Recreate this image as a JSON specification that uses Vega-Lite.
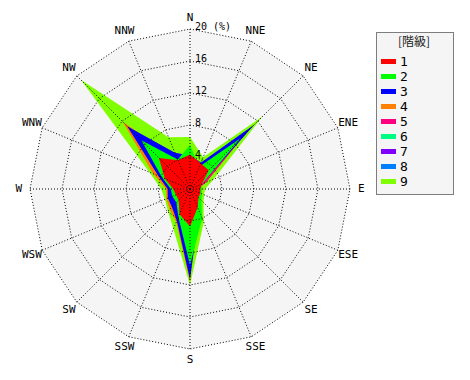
{
"$schema":"https://vega.github.io/schema/vega-lite/v6.json",
"width":470,"height":380,"autosize":"none","padding":0,"background":"white",
"config":{"view":{"stroke":null},"font":"DejaVu Sans Mono",
 "legend":{"strokeColor":"#000","strokeDash":[1,1],"fillColor":"#f5f5f5","padding":5}},
"datasets":{
"dirs":[{"i":0,"d":"N","rings":[4,8,12,16,20]},{"i":1,"d":"NNE","rings":[4,8,12,16,20]},{"i":2,"d":"NE","rings":[4,8,12,16,20]},{"i":3,"d":"ENE","rings":[4,8,12,16,20]},{"i":4,"d":"E","rings":[4,8,12,16,20]},{"i":5,"d":"ESE","rings":[4,8,12,16,20]},{"i":6,"d":"SE","rings":[4,8,12,16,20]},{"i":7,"d":"SSE","rings":[4,8,12,16,20]},{"i":8,"d":"S","rings":[4,8,12,16,20]},{"i":9,"d":"SSW","rings":[4,8,12,16,20]},{"i":10,"d":"SW","rings":[4,8,12,16,20]},{"i":11,"d":"WSW","rings":[4,8,12,16,20]},{"i":12,"d":"W","rings":[4,8,12,16,20]},{"i":13,"d":"WNW","rings":[4,8,12,16,20]},{"i":14,"d":"NW","rings":[4,8,12,16,20]},{"i":15,"d":"NNW","rings":[4,8,12,16,20]}],
"ringlab":[{"r":4,"t":"4"},{"r":8,"t":"8"},{"r":12,"t":"12"},{"r":16,"t":"16"},{"r":20,"t":"20 (%)"}],
"wind":[
{"c":9,"i":0,"v":6.5},{"c":9,"i":1,"v":4.3},{"c":9,"i":2,"v":12.8},{"c":9,"i":3,"v":3.2},{"c":9,"i":4,"v":1.9},{"c":9,"i":5,"v":1.9},{"c":9,"i":6,"v":2.4},{"c":9,"i":7,"v":4.5},{"c":9,"i":8,"v":12.0},{"c":9,"i":9,"v":5.4},{"c":9,"i":10,"v":3.9},{"c":9,"i":11,"v":3.4},{"c":9,"i":12,"v":3.6},{"c":9,"i":13,"v":5.5},{"c":9,"i":14,"v":19.3},{"c":9,"i":15,"v":7.0},
{"c":8,"i":0,"v":0.8},{"c":8,"i":1,"v":0.8},{"c":8,"i":2,"v":0.8},{"c":8,"i":3,"v":0.8},{"c":8,"i":4,"v":0.8},{"c":8,"i":5,"v":0.8},{"c":8,"i":6,"v":0.8},{"c":8,"i":7,"v":0.8},{"c":8,"i":8,"v":0.8},{"c":8,"i":9,"v":0.8},{"c":8,"i":10,"v":0.8},{"c":8,"i":11,"v":0.8},{"c":8,"i":12,"v":0.8},{"c":8,"i":13,"v":0.8},{"c":8,"i":14,"v":0.8},{"c":8,"i":15,"v":0.8},
{"c":7,"i":0,"v":0.6},{"c":7,"i":1,"v":0.6},{"c":7,"i":2,"v":0.6},{"c":7,"i":3,"v":0.6},{"c":7,"i":4,"v":0.6},{"c":7,"i":5,"v":0.6},{"c":7,"i":6,"v":0.6},{"c":7,"i":7,"v":0.6},{"c":7,"i":8,"v":0.6},{"c":7,"i":9,"v":0.6},{"c":7,"i":10,"v":0.6},{"c":7,"i":11,"v":0.6},{"c":7,"i":12,"v":0.6},{"c":7,"i":13,"v":0.6},{"c":7,"i":14,"v":0.6},{"c":7,"i":15,"v":0.6},
{"c":6,"i":0,"v":1.0},{"c":6,"i":1,"v":1.0},{"c":6,"i":2,"v":1.0},{"c":6,"i":3,"v":1.0},{"c":6,"i":4,"v":1.0},{"c":6,"i":5,"v":1.0},{"c":6,"i":6,"v":1.0},{"c":6,"i":7,"v":1.0},{"c":6,"i":8,"v":1.0},{"c":6,"i":9,"v":1.0},{"c":6,"i":10,"v":1.0},{"c":6,"i":11,"v":1.0},{"c":6,"i":12,"v":1.0},{"c":6,"i":13,"v":1.0},{"c":6,"i":14,"v":1.0},{"c":6,"i":15,"v":1.0},
{"c":5,"i":0,"v":1.0},{"c":5,"i":1,"v":1.0},{"c":5,"i":2,"v":10.0},{"c":5,"i":3,"v":2.2},{"c":5,"i":4,"v":1.0},{"c":5,"i":5,"v":1.0},{"c":5,"i":6,"v":1.0},{"c":5,"i":7,"v":1.0},{"c":5,"i":8,"v":1.0},{"c":5,"i":9,"v":1.0},{"c":5,"i":10,"v":1.0},{"c":5,"i":11,"v":1.0},{"c":5,"i":12,"v":1.0},{"c":5,"i":13,"v":1.0},{"c":5,"i":14,"v":1.0},{"c":5,"i":15,"v":1.0},
{"c":4,"i":0,"v":3.0},{"c":4,"i":1,"v":2.5},{"c":4,"i":2,"v":8.0},{"c":4,"i":3,"v":1.5},{"c":4,"i":4,"v":1.0},{"c":4,"i":5,"v":1.0},{"c":4,"i":6,"v":1.2},{"c":4,"i":7,"v":2.5},{"c":4,"i":8,"v":11.6},{"c":4,"i":9,"v":4.5},{"c":4,"i":10,"v":3.6},{"c":4,"i":11,"v":3.2},{"c":4,"i":12,"v":3.0},{"c":4,"i":13,"v":5.0},{"c":4,"i":14,"v":11.9},{"c":4,"i":15,"v":4.0},
{"c":3,"i":0,"v":4.2},{"c":3,"i":1,"v":3.6},{"c":3,"i":2,"v":11.4},{"c":3,"i":3,"v":1.5},{"c":3,"i":4,"v":1.2},{"c":3,"i":5,"v":1.2},{"c":3,"i":6,"v":1.5},{"c":3,"i":7,"v":3.0},{"c":3,"i":8,"v":11.3},{"c":3,"i":9,"v":4.3},{"c":3,"i":10,"v":3.2},{"c":3,"i":11,"v":3.0},{"c":3,"i":12,"v":2.8},{"c":3,"i":13,"v":4.3},{"c":3,"i":14,"v":11.1},{"c":3,"i":15,"v":4.9},
{"c":2,"i":0,"v":5.5},{"c":2,"i":1,"v":3.0},{"c":2,"i":2,"v":9.0},{"c":2,"i":3,"v":1.6},{"c":2,"i":4,"v":1.5},{"c":2,"i":5,"v":1.6},{"c":2,"i":6,"v":2.0},{"c":2,"i":7,"v":4.0},{"c":2,"i":8,"v":9.5},{"c":2,"i":9,"v":3.8},{"c":2,"i":10,"v":2.4},{"c":2,"i":11,"v":2.4},{"c":2,"i":12,"v":2.4},{"c":2,"i":13,"v":3.8},{"c":2,"i":14,"v":8.6},{"c":2,"i":15,"v":4.0},
{"c":1,"i":0,"v":4.3},{"c":1,"i":1,"v":3.5},{"c":1,"i":2,"v":3.3},{"c":1,"i":3,"v":1.6},{"c":1,"i":4,"v":1.3},{"c":1,"i":5,"v":1.4},{"c":1,"i":6,"v":1.5},{"c":1,"i":7,"v":2.5},{"c":1,"i":8,"v":4.7},{"c":1,"i":9,"v":3.4},{"c":1,"i":10,"v":2.0},{"c":1,"i":11,"v":1.9},{"c":1,"i":12,"v":2.1},{"c":1,"i":13,"v":3.4},{"c":1,"i":14,"v":5.5},{"c":1,"i":15,"v":3.9}
]},
"encoding":{
 "x":{"field":"x","type":"quantitative","scale":{"domain":[-23.75,35],"nice":false,"zero":false},"axis":null},
 "y":{"field":"y","type":"quantitative","scale":{"domain":[-23.875,23.625],"nice":false,"zero":false},"axis":null}
},
"layer":[
 {"data":{"name":"dirs"},
  "transform":[{"calculate":"20*sin(datum.i*PI/8)","as":"x"},{"calculate":"20*cos(datum.i*PI/8)","as":"y"}],
  "mark":{"type":"line","interpolate":"linear-closed","fill":"#f5f5f5","strokeWidth":0},
  "encoding":{"order":{"field":"i","type":"quantitative"}}},
 {"data":{"name":"wind"},
  "transform":[{"calculate":"datum.v*sin(datum.i*PI/8)","as":"x"},{"calculate":"datum.v*cos(datum.i*PI/8)","as":"y"}],
  "mark":{"type":"line","interpolate":"linear-closed","filled":true,"strokeWidth":0},
  "encoding":{
   "color":{"field":"c","type":"nominal","sort":[1,2,3,4,5,6,7,8,9],
    "scale":{"domain":[1,2,3,4,5,6,7,8,9],"range":["#ff0000","#00ff00","#0000ff","#ff8000","#ff0080","#00ff80","#8000ff","#0080ff","#80ff00"]},
    "legend":{"orient":"none","legendX":376,"legendY":32,"title":"[階級]","titleFont":"Noto Sans CJK JP","titleFontSize":12,"titleFontWeight":"normal","titleColor":"#222","titleAnchor":"middle","titlePadding":5,"rowPadding":0,
     "symbolType":"M-1,-0.33H1V0.33H-1Z","symbolSize":225,"symbolStrokeWidth":0,"symbolOpacity":1,
     "labelFont":"DejaVu Sans Mono","labelFontSize":13,"labelColor":"#000","labelOffset":4,
     "labelExpr":"datum.label + '\u2800\u2800\u2800\u2800'"}},
   "order":{"field":"i","type":"quantitative"}}},
 {"data":{"name":"dirs"},
  "transform":[{"flatten":["rings"]},{"calculate":"datum.rings*sin(datum.i*PI/8)","as":"x"},{"calculate":"datum.rings*cos(datum.i*PI/8)","as":"y"}],
  "mark":{"type":"line","interpolate":"linear-closed","stroke":"#000","strokeWidth":1,"strokeDash":[1,2]},
  "encoding":{"detail":{"field":"rings","type":"nominal"},"order":{"field":"i","type":"quantitative"}}},
 {"data":{"name":"dirs"},
  "transform":[{"calculate":"20*sin(datum.i*PI/8)","as":"x"},{"calculate":"20*cos(datum.i*PI/8)","as":"y"}],
  "mark":{"type":"rule","stroke":"#000","strokeWidth":1,"strokeDash":[1,2]},
  "encoding":{"x":{"datum":0,"type":"quantitative"},"y":{"datum":0,"type":"quantitative"},"x2":{"field":"x"},"y2":{"field":"y"}}},
 {"data":{"name":"ringlab"},
  "transform":[{"calculate":"0*datum.r","as":"x"},{"calculate":"datum.r","as":"y"}],
  "mark":{"type":"text","align":"left","baseline":"middle","dx":5,"dy":-2,"fontSize":10,"font":"DejaVu Sans Mono","fill":"#000"},
  "encoding":{"text":{"field":"t","type":"nominal"}}},
 {"data":{"name":"dirs"},
  "transform":[{"calculate":"21.4*sin(datum.i*PI/8)","as":"x"},{"calculate":"21.4*cos(datum.i*PI/8)","as":"y"}],
  "mark":{"type":"text","align":"center","baseline":"middle","fontSize":11,"font":"DejaVu Sans Mono","fill":"#000"},
  "encoding":{"text":{"field":"d","type":"nominal"}}}
]
}
